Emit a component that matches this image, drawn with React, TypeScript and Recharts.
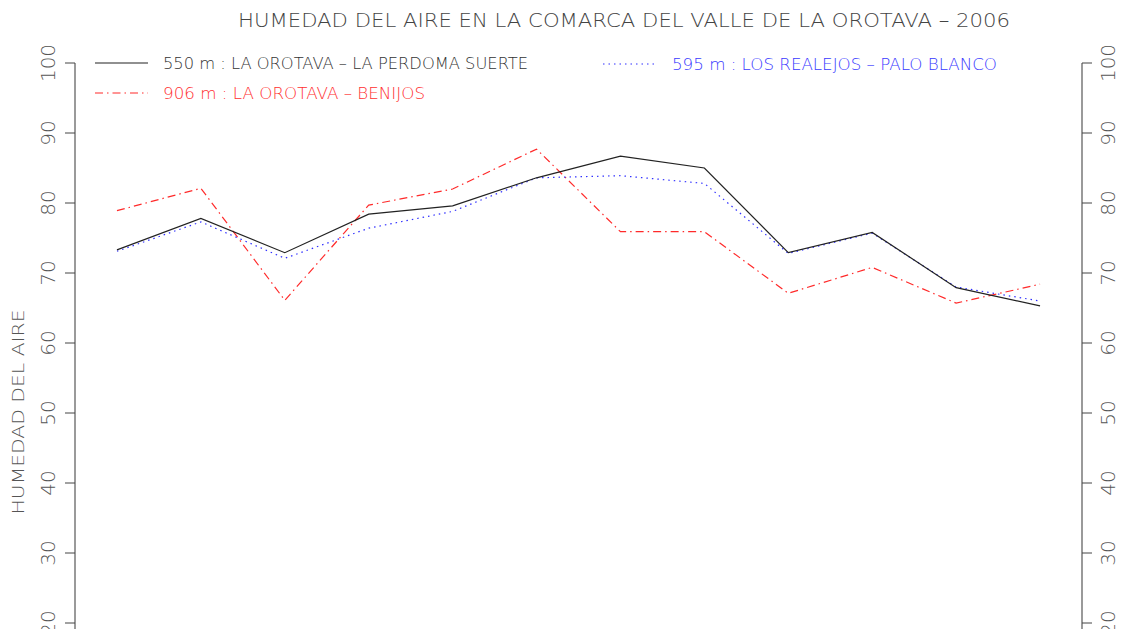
import { Line, LineChart, XAxis, YAxis } from "recharts";

const MONTHS = [1, 2, 3, 4, 5, 6, 7, 8, 9, 10, 11, 12];
const HR_PERDOMA = [73.3, 77.8, 72.9, 78.4, 79.6, 83.6, 86.7, 85.0, 72.9, 75.8, 67.9, 65.3];
const HR_PALO_BLANCO = [73.1, 77.3, 72.1, 76.4, 78.8, 83.6, 83.9, 82.8, 72.8, 75.7, 68.0, 66.0];
const HR_BENIJOS = [78.9, 82.1, 66.1, 79.7, 82.0, 87.7, 75.9, 75.9, 67.1, 70.8, 65.7, 68.4];
const Y_TICKS = [20, 30, 40, 50, 60, 70, 80, 90, 100];

const TITLE = "HUMEDAD DEL AIRE EN LA COMARCA DEL VALLE DE LA OROTAVA – 2006";
const Y_LABEL = "HUMEDAD DEL AIRE";

const FONT = "'DejaVu Sans', sans-serif";
const AXIS_GREY = "#9a9a9a";

const data = MONTHS.map((mes, i) => ({
  mes,
  perdoma: HR_PERDOMA[i],
  paloBlanco: HR_PALO_BLANCO[i],
  benijos: HR_BENIJOS[i],
}));

function RotatedTick(props: any) {
  const { x, y, payload, side } = props;
  const bx = side === "left" ? x - 10 : x + 23;
  return (
    <text
      x={bx}
      y={y}
      transform={`rotate(-90, ${bx}, ${y})`}
      textAnchor="middle"
      fontFamily={FONT}
      fontWeight={200}
      fontSize={20}
      fill="#555"
    >
      {payload.value}
    </text>
  );
}

function Overlay() {
  return (
    <svg
      width={1123}
      height={629}
      style={{ position: "absolute", left: 0, top: 0, pointerEvents: "none" }}
    >
      <text
        x={624}
        y={27}
        textAnchor="middle"
        textLength={772}
        lengthAdjust="spacingAndGlyphs"
        fontFamily={FONT}
        fontWeight={200}
        fontSize={19}
        fill="#444"
      >
        {TITLE}
      </text>

      <text
        x={24}
        y={412}
        transform="rotate(-90, 24, 412)"
        textAnchor="middle"
        textLength={205}
        lengthAdjust="spacingAndGlyphs"
        fontFamily={FONT}
        fontWeight={200}
        fontSize={16}
        fill="#555"
      >
        {Y_LABEL}
      </text>

      {/* legend */}
      <line x1={95} x2={148} y1={63} y2={63} stroke="#222" strokeWidth={1.2} />
      <text
        x={163}
        y={69}
        textLength={365}
        lengthAdjust="spacingAndGlyphs"
        fontFamily={FONT}
        fontWeight={200}
        fontSize={16}
        fill="#333"
      >
        550 m : LA OROTAVA – LA PERDOMA SUERTE
      </text>

      <line
        x1={95}
        x2={148}
        y1={93}
        y2={93}
        stroke="#ff2a2a"
        strokeWidth={1.2}
        strokeDasharray="8 4 1.5 4"
      />
      <text
        x={163}
        y={99}
        textLength={262}
        lengthAdjust="spacingAndGlyphs"
        fontFamily={FONT}
        fontWeight={200}
        fontSize={16}
        fill="#ff3030"
      >
        906 m : LA OROTAVA – BENIJOS
      </text>

      <line
        x1={603}
        x2={654}
        y1={64}
        y2={64}
        stroke="#3030ff"
        strokeWidth={1.2}
        strokeDasharray="1.5 4"
      />
      <text
        x={672}
        y={70}
        textLength={325}
        lengthAdjust="spacingAndGlyphs"
        fontFamily={FONT}
        fontWeight={200}
        fontSize={16}
        fill="#3a3aff"
      >
        595 m : LOS REALEJOS – PALO BLANCO
      </text>
    </svg>
  );
}

export default function App() {
  return (
    <div
      style={{
        position: "absolute",
        left: 0,
        top: 0,
        width: 1123,
        height: 629,
        overflow: "hidden",
        background: "#fff",
      }}
    >
      <LineChart
        width={1123}
        height={630}
        data={data}
        margin={{ top: 63, right: 0, bottom: 0, left: 0 }}
      >
        <XAxis
          dataKey="mes"
          type="number"
          domain={[0.5, 12.5]}
          hide
          height={0}
        />
        <YAxis
          yAxisId="left"
          width={75}
          domain={[19, 100]}
          ticks={Y_TICKS}
          interval={0}
          allowDataOverflow
          tickSize={10}
          tickMargin={0}
          axisLine={{ stroke: AXIS_GREY, strokeWidth: 2 }}
          tickLine={{ stroke: "#444" }}
          tick={<RotatedTick side="left" />}
        />
        <YAxis
          yAxisId="right"
          orientation="right"
          width={41}
          domain={[19, 100]}
          ticks={Y_TICKS}
          interval={0}
          allowDataOverflow
          tickSize={10}
          tickMargin={0}
          axisLine={{ stroke: AXIS_GREY, strokeWidth: 2 }}
          tickLine={{ stroke: "#444" }}
          tick={<RotatedTick side="right" />}
        />
        <Line
          yAxisId="left"
          dataKey="benijos"
          type="linear"
          stroke="#ff2a2a"
          strokeWidth={1.2}
          strokeDasharray="8 4 1.5 4"
          dot={false}
          isAnimationActive={false}
        />
        <Line
          yAxisId="left"
          dataKey="paloBlanco"
          type="linear"
          stroke="#3030ff"
          strokeWidth={1.2}
          strokeDasharray="1.5 4"
          dot={false}
          isAnimationActive={false}
        />
        <Line
          yAxisId="left"
          dataKey="perdoma"
          type="linear"
          stroke="#222"
          strokeWidth={1.2}
          dot={false}
          isAnimationActive={false}
        />
      </LineChart>
      <Overlay />
    </div>
  );
}
